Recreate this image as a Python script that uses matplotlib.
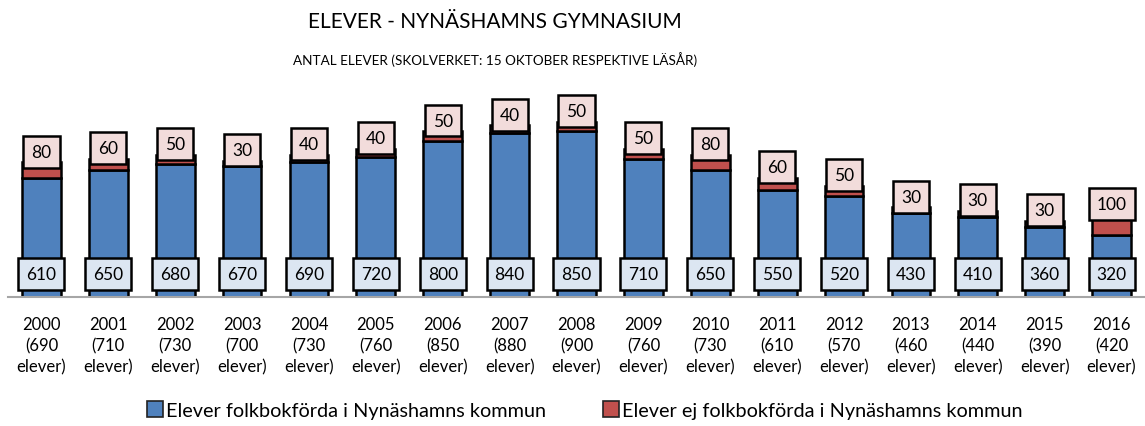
import matplotlib
matplotlib.use('Agg')
import matplotlib.pyplot as plt
from matplotlib.patches import Patch

plt.rcParams['font.family'] = ['Lato', 'DejaVu Sans']

years = ['2000', '2001', '2002', '2003', '2004', '2005', '2006', '2007', '2008',
         '2009', '2010', '2011', '2012', '2013', '2014', '2015', '2016']
# elever folkbokförda i kommunen
inom = [610, 650, 680, 670, 690, 720, 800, 840, 850, 710, 650, 550, 520, 430, 410, 360, 320]
# elever ej folkbokförda i kommunen
utom = [80, 60, 50, 30, 40, 40, 50, 40, 50, 50, 80, 60, 50, 30, 30, 30, 100]

blue = '#4F81BD'
red = '#C0504D'

fig = plt.figure(figsize=(11.45, 4.27), dpi=100)
ax = fig.add_axes([0.007, 0.302, 0.993, 0.4567])

x = list(range(len(years)))
ax.bar(x, inom, width=0.58, color=blue, edgecolor='black', linewidth=1.8, zorder=2)
ax.bar(x, utom, bottom=inom, width=0.58, color=red, edgecolor='black', linewidth=1.8, zorder=2)

totals = [a + b for a, b in zip(inom, utom)]

for i in x:
    # blue labels sit at a fixed height near the base
    ax.text(i, 0.118, str(inom[i]), transform=ax.get_xaxis_transform(),
            ha='center', va='center', fontsize=12.5, zorder=5,
            bbox=dict(boxstyle='square,pad=0.46', fc='#DCE6F2', ec='black', lw=1.8))
    ax.annotate(str(utom[i]), (i, totals[i]), xytext=(0, 2), textcoords='offset points',
                ha='center', va='bottom', fontsize=12.5, zorder=5,
                bbox=dict(boxstyle='square,pad=0.46', fc='#F2DCDB', ec='black', lw=1.8))

ax.set_xlim(-0.5, len(years) - 0.5)
ax.set_ylim(0, 1000)
ax.set_xticks(x)
ax.set_xticklabels(['%s\n(%d\nelever)' % (y, t) for y, t in zip(years, totals)],
                   fontsize=12, linespacing=1.38)
ax.tick_params(axis='x', length=0, pad=14)
ax.set_yticks([])
for s in ['top', 'left', 'right']:
    ax.spines[s].set_visible(False)
ax.spines['bottom'].set_color('#A6A6A6')
ax.spines['bottom'].set_linewidth(1.5)
ax.spines['bottom'].set_zorder(6)

fig.text(0.432, 0.948, 'ELEVER - NYNÄSHAMNS GYMNASIUM', ha='center', va='center', fontsize=15)
fig.text(0.432, 0.86, 'ANTAL ELEVER (SKOLVERKET: 15 OKTOBER RESPEKTIVE LÄSÅR)',
         ha='center', va='center', fontsize=9.7)

handles = [Patch(facecolor=blue, edgecolor='#222222', lw=1.2),
           Patch(facecolor=red, edgecolor='#222222', lw=1.2)]
fig.legend(handles, ['Elever folkbokförda i Nynäshamns kommun',
                     'Elever ej folkbokförda i Nynäshamns kommun'],
           loc='center left', bbox_to_anchor=(0.1284, 0.037), ncol=2, frameon=False,
           fontsize=14.3, handlelength=0.8, handleheight=0.8, handletextpad=0.15,
           columnspacing=2.9, borderpad=0, borderaxespad=0)

fig.savefig('out.png', dpi=100)
